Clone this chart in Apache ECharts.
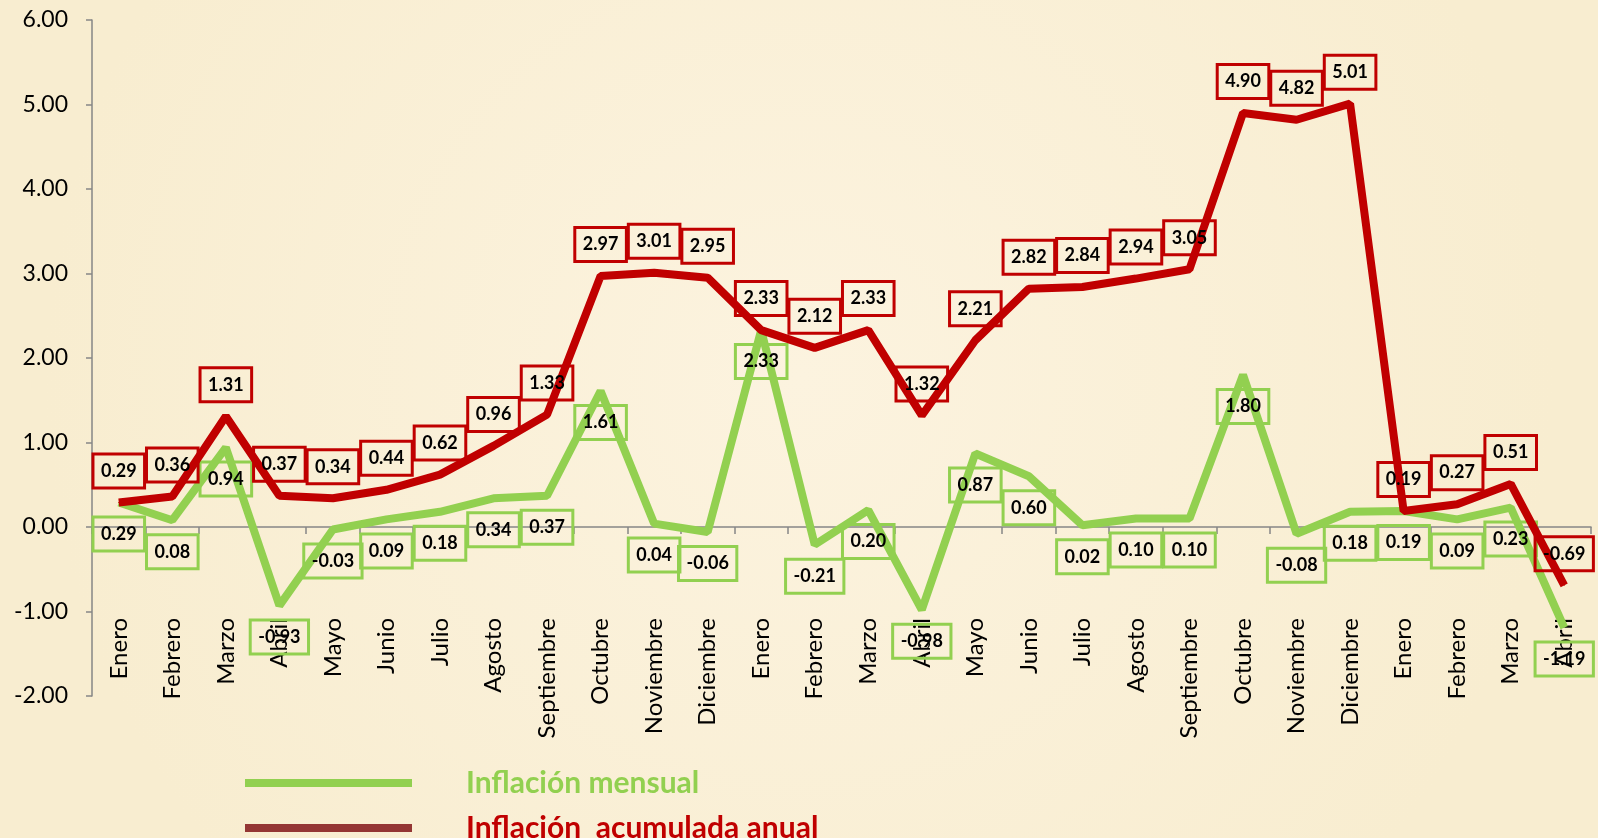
<!DOCTYPE html>
<html>
<head>
<meta charset="utf-8">
<script src="https://cdn.jsdelivr.net/npm/echarts@6/dist/echarts.min.js"></script>
<style>
  html, body { margin: 0; padding: 0; background: #faf0d7; }
  #chart { width: 1598px; height: 838px; }
</style>
</head>
<body>
<div id="chart"></div>
<script>
// months of the three years shown (28 points)
const months = [
  "Enero", "Febrero", "Marzo", "Abril", "Mayo", "Junio", "Julio", "Agosto",
  "Septiembre", "Octubre", "Noviembre", "Diciembre",
  "Enero", "Febrero", "Marzo", "Abril", "Mayo", "Junio", "Julio", "Agosto",
  "Septiembre", "Octubre", "Noviembre", "Diciembre",
  "Enero", "Febrero", "Marzo", "Abril"
];

const inflacionMensual = [
  0.29, 0.08, 0.94, -0.93, -0.03, 0.09, 0.18, 0.34, 0.37, 1.61, 0.04, -0.06,
  2.33, -0.21, 0.20, -0.98, 0.87, 0.60, 0.02, 0.10, 0.10, 1.80, -0.08, 0.18,
  0.19, 0.09, 0.23, -1.19
];

const inflacionAcumulada = [
  0.29, 0.36, 1.31, 0.37, 0.34, 0.44, 0.62, 0.96, 1.33, 2.97, 3.01, 2.95,
  2.33, 2.12, 2.33, 1.32, 2.21, 2.82, 2.84, 2.94, 3.05, 4.90, 4.82, 5.01,
  0.19, 0.27, 0.51, -0.69
];

const seriesNames = ["Inflación mensual", "Inflación  acumulada anual"];

const FONT = "Lato, 'Open Sans', sans-serif";
const GREEN = "#92D050";
const RED = "#C00000";

function boxLabel(position, borderColor) {
    return {
        show: true,
        position: position,
        distance: 14,
        formatter: (p) => p.value.toFixed(2),
        color: "#000",
        fontFamily: FONT,
        fontWeight: "bold",
        fontSize: 18,
        lineHeight: 20,
        backgroundColor: "transparent",
        borderColor: borderColor,
        borderWidth: 1.5,
        padding: [7, 8],
    };
}

// one legend per row so the vertical legend never wraps into columns
function legendRow(top, name, iconColor, textColor) {
    return {
        orient: "vertical",
        left: 240,
        top: top,
        icon: "rect",
        itemWidth: 167,
        itemHeight: 8,
        textStyle: {
            fontFamily: FONT,
            fontWeight: "bold",
            fontSize: 30,
            lineHeight: 34,
            padding: [0, 0, 0, 49],
        },
        data: [{ name: name, itemStyle: { color: iconColor }, textStyle: { color: textColor } }],
    };
}

const myChart = echarts.init(document.getElementById("chart"), null, { renderer: "canvas" });

const option = {
    backgroundColor: {
        type: "radial", x: 0.5, y: 0.45, r: 0.9,
        colorStops: [
            { offset: 0, color: "#fcf3df" },
            { offset: 1, color: "#f8edd0" },
        ],
    },
    animation: false,
    grid: {
        left: 92,
        right: 7,
        top: 20,
        bottom: 142,
        outerBoundsMode: "none",
        containLabel: false,
    },
    legend: [
        legendRow(761, seriesNames[0], GREEN, GREEN),
        legendRow(806, seriesNames[1], "#943634", RED),
    ],
    xAxis: {
        type: "category",
        data: months,
        boundaryGap: true,
        axisLine: { onZero: true, lineStyle: { color: "#868686", width: 1.5 } },
        axisTick: { show: true, length: 7, lineStyle: { color: "#868686", width: 1.5 } },
        axisLabel: {
            interval: 0,
            rotate: 90,
            margin: -78,
            color: "#000",
            fontFamily: FONT,
            fontSize: 24,
        },
        splitLine: { show: false },
    },
    yAxis: {
        type: "value",
        min: -2,
        max: 6,
        interval: 1,
        axisLine: { show: true, lineStyle: { color: "#868686", width: 1.5 } },
        axisTick: { show: true, length: 6, lineStyle: { color: "#868686", width: 1.5 } },
        axisLabel: {
            margin: 24,
            color: "#000",
            fontFamily: FONT,
            fontSize: 23,
            formatter: (v) => v.toFixed(2),
        },
        splitLine: { show: false },
    },
    series: [
        {
            name: seriesNames[0],
            type: "line",
            data: inflacionMensual,
            symbol: "circle",
            symbolSize: 1,
            showSymbol: true,
            color: GREEN,
            lineStyle: { color: GREEN, width: 8 },
            label: boxLabel("bottom", GREEN),
            z: 2,
        },
        {
            name: seriesNames[1],
            type: "line",
            data: inflacionAcumulada,
            symbol: "circle",
            symbolSize: 1,
            showSymbol: true,
            color: RED,
            lineStyle: { color: RED, width: 8 },
            label: boxLabel("top", RED),
            z: 3,
        },
    ],
};

myChart.setOption(option);
</script>
</body>
</html>
